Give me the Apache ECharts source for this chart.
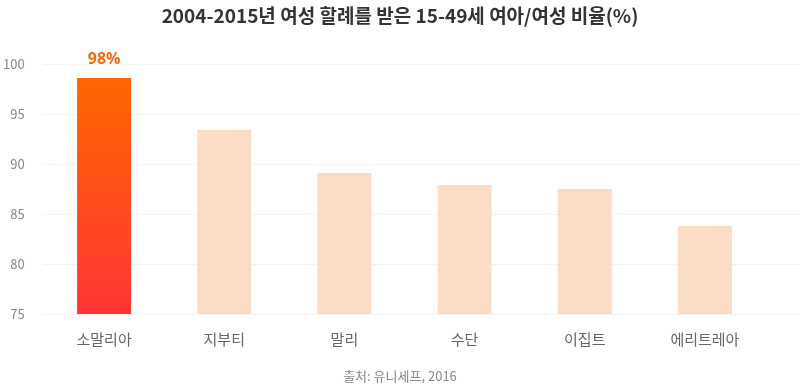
<!DOCTYPE html>
<html>
<head>
<meta charset="utf-8">
<script src="https://cdn.jsdelivr.net/npm/echarts@6/dist/echarts.min.js"></script>
<style>
  html, body { margin: 0; padding: 0; background: #fff; }
  #main { width: 800px; height: 385px; }
</style>
</head>
<body>
<div id="main"></div>
<script>
// 데이터
var countries = ['소말리아', '지부티', '말리', '수단', '이집트', '에리트레아'];
var rates = [98.6, 93.4, 89.1, 87.9, 87.5, 83.8];
var labels = ['98%', '', '', '', '', ''];
var yTicks = [75, 80, 85, 90, 95, 100];

var myChart = echarts.init(document.getElementById('main'));
var font = '"Noto Sans CJK KR", "Noto Sans", sans-serif';

var barData = rates.map(function (v, i) {
    if (i == 0) {
        return {
            value: v,
            itemStyle: {
                color: new echarts.graphic.LinearGradient(0, 0, 0, 1, [
                    { offset: 0, color: '#ff6600' },
                    { offset: 1, color: '#ff3535' }
                ])
            },
            label: {
                show: true,
                position: 'top',
                distance: 11,
                formatter: labels[i],
                color: '#f26a12',
                fontSize: 16,
                fontWeight: 'bold',
                fontFamily: '"Open Sans", sans-serif'
            }
        };
    }
    return { value: v };
});

option = {
    backgroundColor: '#fff',
    title: {
        text: '2004-2015년 여성 할례를 받은 15-49세 여아/여성 비율(%)',
        left: 'center',
        top: 1,
        textStyle: { fontFamily: font, fontSize: 19, fontWeight: 'bold', color: '#333' }
    },
    graphic: [{
        type: 'text',
        left: 'center',
        top: 370,
        style: { text: '출처: 유니세프, 2016', font: '13px ' + font, fill: '#888' }
    }],
    grid: [
        // 배경 격자선 (오른쪽 끝까지)
        { left: 42, right: 0, top: 64, bottom: 71 },
        // 막대
        { left: 44, right: 35, top: 64, bottom: 71 }
    ],
    xAxis: [
        { gridIndex: 0, type: 'category', data: [''], show: false },
        {
            gridIndex: 1,
            type: 'category',
            data: countries,
            axisLine: { show: false },
            axisTick: { show: false },
            axisLabel: { margin: 18, color: '#666', fontSize: 15, fontFamily: font }
        }
    ],
    yAxis: [
        {
            gridIndex: 0,
            type: 'value',
            min: yTicks[0],
            max: yTicks[yTicks.length - 1],
            interval: 5,
            axisLine: { show: false },
            axisTick: { show: false },
            axisLabel: { margin: 18, color: '#888', fontSize: 13, fontFamily: font },
            splitLine: { lineStyle: { color: '#f3f3f3', width: 1 } }
        },
        {
            gridIndex: 1,
            type: 'value',
            min: yTicks[0],
            max: yTicks[yTicks.length - 1],
            interval: 5,
            show: false,
            splitLine: { show: false }
        }
    ],
    series: [{
        type: 'bar',
        xAxisIndex: 1,
        yAxisIndex: 1,
        barWidth: 54,
        itemStyle: { color: '#fddcc5' },
        data: barData,
        animation: false
    }]
};

myChart.setOption(option);
</script>
</body>
</html>
